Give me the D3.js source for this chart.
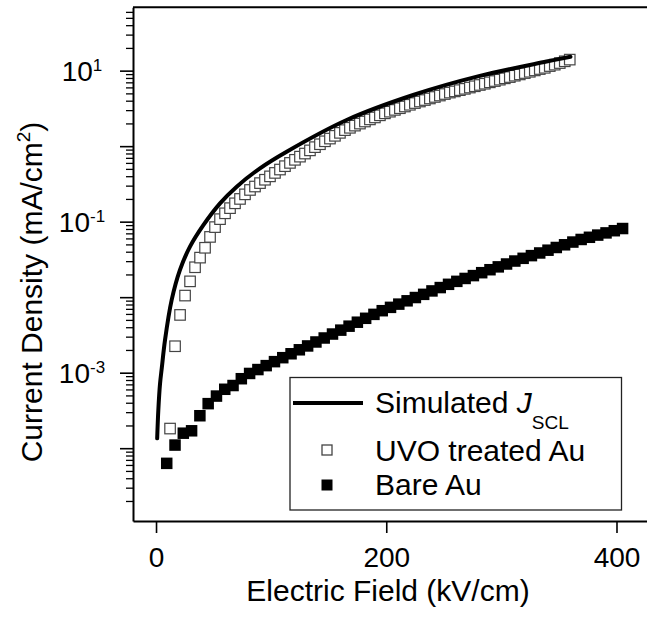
<!DOCTYPE html>
<html>
<head>
<meta charset="utf-8">
<title>current density vs field</title>
<script src="https://d3js.org/d3.v7.min.js"></script>
<style>
  body { margin: 0; background: #fff; }
  svg { display: block; }
  text { font-family: "Liberation Sans", Arial, sans-serif; fill: #000; }
</style>
</head>
<body>
<svg width="647" height="622" id="mainsvg"></svg>
<script>
// Bare Au (filled squares): field in kV/cm, current density in mA/cm^2
const fieldBare = [9.3, 16.5, 23.7, 30.9, 38.1, 45.3, 52.5, 59.7, 66.9, 74.1,
  81.3, 88.5, 95.7, 102.9, 110.1, 117.3, 124.5, 131.7, 138.9, 146.1,
  153.3, 160.5, 167.7, 174.9, 182.1, 189.3, 196.5, 203.7, 210.9, 218.1,
  225.3, 232.5, 239.7, 246.9, 254.1, 261.3, 268.5, 275.7, 282.9, 290.1,
  297.3, 304.5, 311.7, 318.9, 326.1, 333.3, 340.5, 347.7, 354.9, 362.1,
  369.3, 376.5, 383.7, 390.9, 398.1, 405.3];
const jBare = [6.3e-5, 1.10e-4, 1.58e-4, 1.70e-4, 2.69e-4, 3.89e-4, 4.90e-4, 6.03e-4, 6.76e-4, 8.32e-4,
  9.77e-4, 1.10e-3, 1.24e-3, 1.40e-3, 1.58e-3, 1.78e-3, 2.01e-3, 2.26e-3, 2.55e-3, 2.88e-3,
  3.25e-3, 3.66e-3, 4.13e-3, 4.66e-3, 5.25e-3, 5.92e-3, 6.62e-3, 7.33e-3, 8.09e-3, 8.95e-3,
  9.89e-3, 1.09e-2, 1.21e-2, 1.34e-2, 1.48e-2, 1.62e-2, 1.77e-2, 1.93e-2, 2.11e-2, 2.31e-2,
  2.52e-2, 2.75e-2, 3.01e-2, 3.27e-2, 3.55e-2, 3.85e-2, 4.19e-2, 4.55e-2, 4.94e-2, 5.37e-2,
  5.81e-2, 6.21e-2, 6.64e-2, 7.10e-2, 7.59e-2, 8.11e-2];

// UVO treated Au (open squares)
const fieldUVO = [12.2, 16.54, 20.88, 25.22, 29.56, 33.9, 38.24, 42.58, 46.92, 51.26,
  55.6, 59.94, 64.28, 68.62, 72.96, 77.3, 81.64, 85.98, 90.32, 94.66,
  99.0, 103.34, 107.68, 112.02, 116.36, 120.7, 125.04, 129.38, 133.72, 138.06,
  142.4, 146.74, 151.08, 155.42, 159.76, 164.1, 168.44, 172.78, 177.12, 181.46,
  185.8, 190.14, 194.48, 198.82, 203.16, 207.5, 211.84, 216.18, 220.52, 224.86,
  229.2, 233.54, 237.88, 242.22, 246.56, 250.9, 255.24, 259.58, 263.92, 268.26,
  272.6, 276.94, 281.28, 285.62, 289.96, 294.3, 298.64, 302.98, 307.32, 311.66,
  316.0, 320.34, 324.68, 329.02, 333.36, 337.7, 342.04, 346.38, 350.72, 355.06, 359.4];
const jUVO = [1.82e-4, 2.24e-3, 5.82e-3, 1.05e-2, 1.62e-2, 2.49e-2, 3.34e-2, 4.51e-2, 6.28e-2, 8.47e-2,
  0.108, 0.129, 0.151, 0.175, 0.200, 0.230, 0.263, 0.292, 0.324, 0.359,
  0.398, 0.442, 0.490, 0.543, 0.600, 0.659, 0.726, 0.798, 0.879, 0.970,
  1.06, 1.16, 1.26, 1.37, 1.50, 1.63, 1.75, 1.87, 1.99, 2.12,
  2.26, 2.40, 2.56, 2.72, 2.86, 3.02, 3.18, 3.35, 3.53, 3.72,
  3.90, 4.08, 4.28, 4.48, 4.68, 4.90, 5.12, 5.31, 5.52, 5.74,
  5.97, 6.21, 6.46, 6.71, 7.00, 7.28, 7.59, 7.91, 8.22, 8.57,
  8.91, 9.29, 9.66, 10.07, 10.5, 10.9, 11.5, 12.0, 12.6, 13.3, 14.0];

// simulated J_SCL curve
const fieldSim = [1.0, 2.0, 3.5, 5.0, 7.8, 13.6, 20.8, 29.5, 41.1, 55.6, 70.1, 90.3, 113.5, 165.6, 223.4, 281.3, 339.2, 360.0];
const jSim = [1.35e-4, 3.2e-4, 7.2e-4, 1.15e-3, 2.7e-3, 9.2e-3, 2.3e-2, 4.67e-2, 9.0e-2, 0.175, 0.291, 0.509, 0.845, 2.22, 4.76, 8.51, 13.2, 15.3];

const xTicks = [0, 200, 400];
const yMajor = [1e-4, 1e-3, 1e-2, 1e-1, 1, 10];
const yLabels = [{ v: 10, exp: '1' }, { v: 0.1, exp: '-1' }, { v: 0.001, exp: '-3' }];

const svg = d3.select('#mainsvg');
const pLeft = 133, pRight = 647, pTop = 7.3, pBottom = 521;

const x = d3.scaleLinear().domain([-20, 426.5]).range([pLeft, pRight]);
const y = d3.scaleLog().domain([1.086e-5, 69]).range([pBottom, pTop]);

// minor ticks 2..9 of each decade
let yMinor = [];
for (let e = -5; e <= 1; e++) {
    for (let k = 2; k <= 9; k++) {
        let v = k * Math.pow(10, e);
        if (v > y.domain()[0] && v < y.domain()[1]) yMinor.push(v);
    }
}

// x axis
const xAxis = svg.append('g')
    .attr('transform', `translate(0,${pBottom})`)
    .call(d3.axisBottom(x).tickValues(xTicks).tickSize(12).tickSizeOuter(0));
xAxis.select('.domain').attr('stroke-width', 2);
xAxis.selectAll('.tick line').attr('stroke-width', 1.6);
xAxis.selectAll('.tick text')
    .attr('y', 46).attr('dy', 0)
    .style('font-size', '28px')
    .style('font-family', '"Liberation Sans", Arial, sans-serif');

// y axis: minor then major
const yMinorAxis = svg.append('g')
    .attr('transform', `translate(${pLeft},0)`)
    .call(d3.axisLeft(y).tickValues(yMinor).tickSize(7).tickFormat(''));
yMinorAxis.select('.domain').remove();
yMinorAxis.selectAll('.tick line').attr('stroke-width', 1.3);

const yAxis = svg.append('g')
    .attr('transform', `translate(${pLeft},0)`)
    .call(d3.axisLeft(y).tickValues(yMajor).tickSize(13).tickSizeOuter(0).tickFormat(''));
yAxis.select('.domain').attr('stroke-width', 2);
yAxis.selectAll('.tick line').attr('stroke-width', 1.6);

// y tick labels with superscripts
const yLab = svg.append('g').selectAll('text').data(yLabels).enter().append('text')
    .attr('x', pLeft - 51)
    .attr('y', d => y(d.v) + 10)
    .attr('text-anchor', 'middle')
    .style('font-size', '28px');
yLab.append('tspan').text('10');
yLab.append('tspan').attr('dy', -10).style('font-size', '17px').text(d => d.exp);

// top frame line
svg.append('line')
    .attr('x1', pLeft).attr('x2', pRight)
    .attr('y1', pTop).attr('y2', pTop)
    .attr('stroke', 'black').attr('stroke-width', 2);

// data
const plot = svg.append('g');

plot.selectAll('rect.bare').data(fieldBare).enter().append('rect')
    .attr('class', 'bare')
    .attr('x', d => x(d) - 5.75)
    .attr('y', (d, i) => y(jBare[i]) - 5.75)
    .attr('width', 11.5).attr('height', 11.5)
    .attr('fill', 'black');

plot.selectAll('rect.uvo').data(fieldUVO).enter().append('rect')
    .attr('class', 'uvo')
    .attr('x', d => x(d) - 5.25)
    .attr('y', (d, i) => y(jUVO[i]) - 5.25)
    .attr('width', 10.5).attr('height', 10.5)
    .attr('fill', 'white')
    .attr('stroke', '#444').attr('stroke-width', 1.2);

const line = d3.line()
    .x(d => x(d[0]))
    .y(d => y(d[1]))
    .curve(d3.curveCatmullRom.alpha(0.5));
plot.append('path')
    .datum(fieldSim.map((f, i) => [f, jSim[i]]))
    .attr('d', line)
    .attr('fill', 'none')
    .attr('stroke', 'black')
    .attr('stroke-width', 4)
    .attr('stroke-linecap', 'round');

// axis titles
svg.append('text')
    .attr('x', 388).attr('y', 601)
    .attr('text-anchor', 'middle')
    .style('font-size', '30px')
    .text('Electric Field (kV/cm)');

const yt = svg.append('text')
    .attr('transform', 'translate(42,292) rotate(-90)')
    .attr('text-anchor', 'middle')
    .style('font-size', '30px');
yt.append('tspan').text('Current Density (mA/cm');
yt.append('tspan').attr('dy', -12).style('font-size', '19px').text('2');
yt.append('tspan').attr('dy', 12).text(')');

// legend
const lg = svg.append('g');
lg.append('rect')
    .attr('x', 290).attr('y', 377.5)
    .attr('width', 331.5).attr('height', 132.5)
    .attr('fill', 'white').attr('stroke', '#222').attr('stroke-width', 1.3);
lg.append('line')
    .attr('x1', 293).attr('x2', 363).attr('y1', 403).attr('y2', 403)
    .attr('stroke', 'black').attr('stroke-width', 4);
lg.append('rect')
    .attr('x', 322).attr('y', 445).attr('width', 10).attr('height', 10)
    .attr('fill', 'white').attr('stroke', '#444').attr('stroke-width', 1.3);
lg.append('rect')
    .attr('x', 321.5).attr('y', 479.5).attr('width', 11).attr('height', 11)
    .attr('fill', 'black');

const t1 = lg.append('text').attr('x', 375).attr('y', 413).style('font-size', '30px');
t1.append('tspan').text('Simulated ');
t1.append('tspan').style('font-style', 'italic').text('J');
t1.append('tspan').attr('dy', 16).style('font-size', '19px').text('SCL');
lg.append('text').attr('x', 375).attr('y', 461).style('font-size', '30px').text('UVO treated Au');
lg.append('text').attr('x', 375).attr('y', 495).style('font-size', '30px').text('Bare Au');
</script>
</body>
</html>
